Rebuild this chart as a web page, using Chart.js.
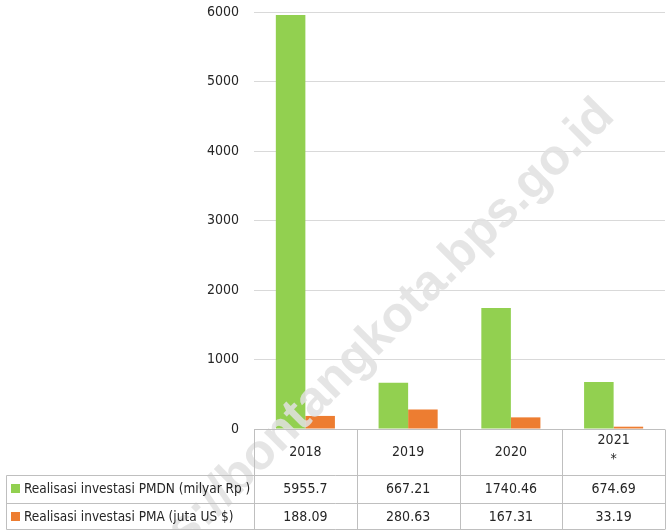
<!DOCTYPE html>
<html>
<head>
<meta charset="utf-8">
<script src="https://cdn.jsdelivr.net/npm/chart.js@4.4.1/dist/chart.umd.min.js"></script>
<style>
  html, body { margin: 0; padding: 0; background: #fff; }
  #wrap { width: 668px; height: 530px; }
</style>
</head>
<body>
<div id="wrap"><canvas id="chart" width="668" height="530"></canvas></div>
<script>
// Chart data
const categories = ['2018', '2019', '2020', ['2021', '*']];
const seriesNames = ['Realisasi investasi PMDN (milyar Rp )', 'Realisasi investasi PMA (juta US $)'];
const pmdnValues = [5955.7, 667.21, 1740.46, 674.69];
const pmaValues = [188.09, 280.63, 167.31, 33.19];
const yTicks = [0, 1000, 2000, 3000, 4000, 5000, 6000];
const watermark = 'https://bontangkota.bps.go.id';

const FONT = '"Liberation Sans Narrow", "DejaVu Sans Condensed", sans-serif';
const TEXT = '#262626';
const LINE = '#bfbfbf';
const colors = ['#92d050', '#ed7d31'];

// Watermark sits over the bars, under the table text
const watermarkPlugin = {
    id: 'watermark',
    afterDatasetsDraw(chart) {
        const ctx = chart.ctx;
        ctx.save();
        ctx.translate(616, 118);
        ctx.rotate(-Math.PI / 4);
        ctx.font = 'bold 50px "Liberation Sans", Arial, sans-serif';
        ctx.textAlign = 'right';
        ctx.textBaseline = 'alphabetic';
        ctx.fillStyle = 'rgba(225,225,225,0.85)';
        ctx.fillText(watermark, 0, 0);
        ctx.restore();
    }
};

// Draws the data table under the plot
const tablePlugin = {
    id: 'dataTable',
    afterDraw(chart) {
        const ctx = chart.ctx;
        const area = chart.chartArea;
        const n = categories.length;
        const colW = (area.right - area.left) / n;
        const top = Math.round(area.bottom) + 0.5;
        const row1 = 475.5, row2 = 503.5, bottom = 529.5;
        const leftEdge = 6.5;

        ctx.save();
        ctx.strokeStyle = LINE;
        ctx.lineWidth = 1;
        ctx.beginPath();
        ctx.moveTo(area.left, top); ctx.lineTo(area.right, top);
        [row1, row2, bottom].forEach(y => { ctx.moveTo(leftEdge, y); ctx.lineTo(area.right, y); });
        ctx.moveTo(leftEdge, row1); ctx.lineTo(leftEdge, bottom);
        for (let i = 0; i <= n; i++) {
            const x = Math.round(area.left + i * colW) + 0.5;
            ctx.moveTo(x, top); ctx.lineTo(x, bottom);
        }
        ctx.stroke();

        ctx.fillStyle = TEXT;
        ctx.font = '14px ' + FONT;
        ctx.textAlign = 'center';
        ctx.textBaseline = 'middle';
        categories.forEach((c, i) => {
            const x = chart.scales.x.getPixelForValue(i);
            if (Array.isArray(c)) {
                ctx.fillText(c[0], x, 440);
                ctx.fillText(c[1], x, 459);
            } else {
                ctx.fillText(c, x, 452);
            }
            ctx.fillText(String(pmdnValues[i]), x, 489);
            ctx.fillText(String(pmaValues[i]), x, 517);
        });

        // legend keys + series names
        ctx.textAlign = 'left';
        ctx.font = '13.5px ' + FONT;
        [489, 517].forEach((y, k) => {
            ctx.fillStyle = colors[k];
            ctx.fillRect(11, y - 5, 9, 9);
            ctx.fillStyle = TEXT;
            ctx.fillText(seriesNames[k], 24, y);
        });
        ctx.restore();
    }
};

new Chart(document.getElementById('chart'), {
    type: 'bar',
    data: {
        labels: categories,
        datasets: [
            { label: seriesNames[0], data: pmdnValues, backgroundColor: colors[0], borderWidth: 0 },
            { label: seriesNames[1], data: pmaValues, backgroundColor: colors[1], borderWidth: 0 }
        ]
    },
    options: {
        responsive: false,
        animation: false,
        layout: { padding: { top: 12, right: 3, bottom: 101, left: 0 } },
        datasets: { bar: { categoryPercentage: 0.575, barPercentage: 1 } },
        plugins: { legend: { display: false }, tooltip: { enabled: false } },
        scales: {
            x: { display: false },
            y: {
                min: 0,
                max: 6000,
                afterFit(scale) {
                    scale.width = 254;
                    scale.paddingTop = 0;
                    scale.paddingBottom = 0;
                },
                afterBuildTicks(scale) { scale.ticks = yTicks.map(v => ({ value: v })); },
                ticks: {
                    padding: 15,
                    color: TEXT,
                    font: { family: FONT, size: 14 },
                    callback: v => String(v)
                },
                grid: { color: '#d9d9d9', drawTicks: false },
                border: { display: false }
            }
        }
    },
    plugins: [watermarkPlugin, tablePlugin]
});
</script>
</body>
</html>
